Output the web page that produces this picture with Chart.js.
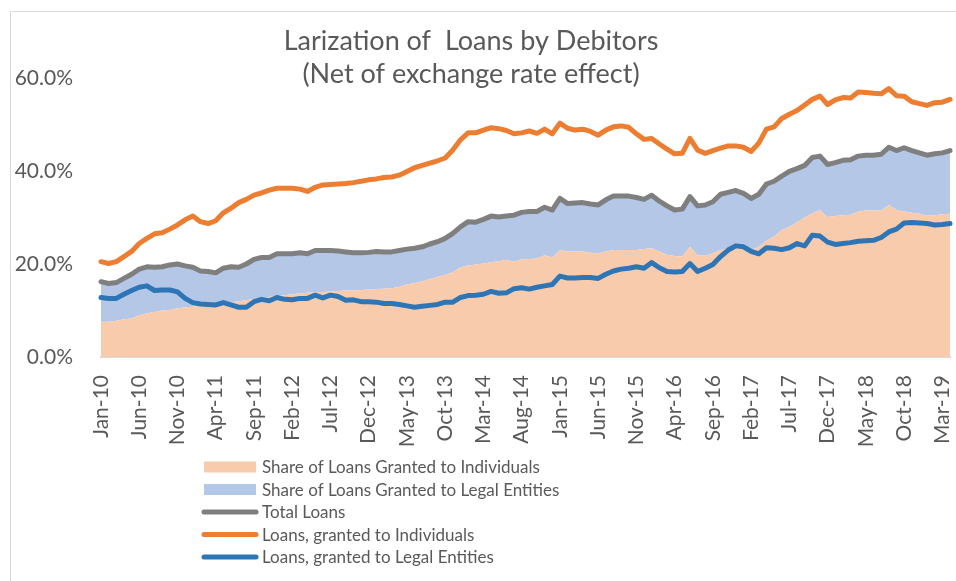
<!DOCTYPE html>
<html lang="en">
<head>
<meta charset="UTF-8">
<title>Larization of Loans by Debitors</title>
<script src="https://cdn.jsdelivr.net/npm/chart.js"></script>
<style>
  html, body { margin: 0; padding: 0; background: #fff; overflow: hidden; }
  .frame { position: absolute; left: 10px; top: 11px; width: 960px; height: 600px; border: 1px solid #d9d9d9; }
  .wrap { position: absolute; left: 0; top: 0; width: 956px; height: 581px; }
</style>
</head>
<body>
<div class="frame"></div>
<div class="wrap"><canvas id="larization"></canvas></div>
<script>
// monthly categories, Jan-10 .. Apr-19
const monthNames = ['Jan', 'Feb', 'Mar', 'Apr', 'May', 'Jun', 'Jul', 'Aug', 'Sep', 'Oct', 'Nov', 'Dec'];
const months = [];
for (let y = 10; y <= 19; y++) {
  for (let m = 0; m < 12 && months.length < 112; m++) months.push(monthNames[m] + '-' + y);
}

// shares (stacked areas), in %
const shareIndividuals = [
  7.6, 7.6, 7.8, 8.1, 8.3, 9.0, 9.4, 9.7, 10.0, 10.1, 10.5, 10.7, 10.8, 11.1, 11.2, 11.2,
  11.6, 11.8, 12.0, 12.2, 12.5, 12.7, 12.9, 13.1, 13.3, 13.5, 13.7, 13.8, 13.9, 14.0,
  14.1, 14.2, 14.3, 14.3, 14.4, 14.5, 14.6, 14.7, 14.8, 15.1, 15.6, 15.9, 16.3, 16.8, 17.2,
  17.7, 18.2, 19.3, 19.7, 19.9, 20.1, 20.4, 20.6, 20.9, 20.5, 21.0, 21.1, 21.2, 21.9, 21.4,
  23.0, 22.7, 22.7, 22.7, 22.4, 22.3, 22.7, 23.0, 23.0, 23.0, 23.0, 23.2, 23.4, 22.7, 22.0,
  21.7, 21.6, 23.7, 21.9, 21.8, 22.3, 23.0, 23.2, 23.4, 23.4, 23.0, 23.7, 25.0, 25.9, 27.3,
  28.0, 29.0, 30.0, 30.9, 31.6, 30.1, 30.3, 30.5, 30.6, 31.3, 31.5, 31.5, 31.5, 32.7, 31.6,
  31.3, 31.0, 30.8, 30.4, 30.5, 30.7, 30.8
];
const shareLegalEntities = [
  8.6, 8.2, 8.2, 8.8, 9.5, 9.9, 10.0, 9.6, 9.4, 9.7, 9.5, 8.9, 8.5, 7.4, 7.2, 6.9,
  7.5, 7.6, 7.3, 7.8, 8.5, 8.7, 8.5, 9.1, 8.9, 8.7, 8.7, 8.4, 9.0, 8.9,
  8.8, 8.6, 8.3, 8.1, 8.0, 8.0, 8.1, 7.9, 7.8, 7.8, 7.6, 7.5, 7.4, 7.5, 7.6,
  7.8, 8.4, 8.7, 9.4, 9.1, 9.5, 9.9, 9.5, 9.4, 10.0, 10.1, 10.2, 10.1, 10.3, 10.2,
  11.1, 10.3, 10.4, 10.5, 10.5, 10.4, 11.1, 11.6, 11.6, 11.6, 11.3, 10.7, 11.4, 10.8, 10.5,
  9.9, 10.2, 10.8, 10.6, 10.9, 11.1, 12.0, 12.2, 12.4, 11.8, 11.1, 11.3, 12.2, 11.9, 11.6,
  11.9, 11.5, 11.2, 12.0, 11.6, 11.3, 11.5, 11.8, 11.8, 11.9, 11.9, 11.9, 12.1, 12.4, 12.8,
  13.7, 13.4, 13.1, 13.0, 13.2, 13.2, 13.6
];

// larization lines, in %
const totalLoans = [
  16.2, 15.8, 16.0, 16.9, 17.8, 18.9, 19.4, 19.3, 19.4, 19.8, 20.0, 19.6, 19.3, 18.5, 18.4, 18.1,
  19.1, 19.4, 19.3, 20.0, 21.0, 21.4, 21.4, 22.2, 22.2, 22.2, 22.4, 22.2, 22.9, 22.9,
  22.9, 22.8, 22.6, 22.4, 22.4, 22.5, 22.7, 22.6, 22.6, 22.9, 23.2, 23.4, 23.7, 24.3, 24.8,
  25.5, 26.6, 28.0, 29.1, 29.0, 29.6, 30.3, 30.1, 30.3, 30.5, 31.1, 31.3, 31.3, 32.2, 31.6,
  34.1, 33.0, 33.1, 33.2, 32.9, 32.7, 33.8, 34.6, 34.6, 34.6, 34.3, 33.9, 34.8, 33.5, 32.5,
  31.6, 31.8, 34.5, 32.5, 32.7, 33.4, 35.0, 35.4, 35.8, 35.2, 34.1, 35.0, 37.2, 37.8, 38.9,
  39.9, 40.5, 41.2, 42.9, 43.2, 41.4, 41.8, 42.3, 42.4, 43.2, 43.4, 43.4, 43.6, 45.1, 44.4,
  45.0, 44.4, 43.9, 43.4, 43.7, 43.9, 44.4
];
const loansIndividuals = [
  20.5, 20.1, 20.5, 21.6, 22.7, 24.4, 25.5, 26.5, 26.7, 27.5, 28.4, 29.5, 30.3, 29.1, 28.7, 29.3,
  31.0, 32.0, 33.2, 33.9, 34.8, 35.3, 35.9, 36.3, 36.3, 36.3, 36.1, 35.6, 36.5, 37.0,
  37.1, 37.2, 37.3, 37.5, 37.8, 38.1, 38.3, 38.6, 38.7, 39.1, 39.9, 40.7, 41.2, 41.7, 42.2,
  42.8, 44.5, 46.7, 48.2, 48.2, 48.8, 49.3, 49.1, 48.7, 48.0, 48.2, 48.6, 48.1, 49.0, 48.0,
  50.3, 49.2, 48.8, 49.0, 48.5, 47.7, 48.8, 49.5, 49.7, 49.4, 48.0, 46.8, 47.0, 45.8, 44.7,
  43.7, 43.8, 47.0, 44.5, 43.8, 44.4, 44.9, 45.4, 45.4, 45.1, 44.2, 46.0, 49.0, 49.5, 51.3,
  52.2, 53.0, 54.2, 55.4, 56.1, 54.3, 55.3, 55.8, 55.7, 57.0, 56.9, 56.7, 56.6, 57.7, 56.2,
  56.1, 54.9, 54.5, 54.1, 54.7, 54.8, 55.4
];
const loansLegalEntities = [
  12.8, 12.6, 12.6, 13.5, 14.3, 15.0, 15.3, 14.3, 14.4, 14.4, 14.0, 12.6, 11.7, 11.4, 11.3, 11.2,
  11.7, 11.2, 10.7, 10.7, 11.9, 12.4, 12.1, 12.8, 12.4, 12.3, 12.6, 12.6, 13.3, 12.7,
  13.3, 13.0, 12.2, 12.3, 11.9, 11.9, 11.8, 11.5, 11.5, 11.3, 11.0, 10.7, 10.9, 11.1, 11.3,
  11.8, 11.8, 12.8, 13.2, 13.3, 13.5, 14.1, 13.7, 13.8, 14.7, 14.9, 14.6, 15.0, 15.3, 15.6,
  17.4, 17.0, 17.0, 17.1, 17.1, 16.9, 17.8, 18.5, 18.9, 19.1, 19.4, 19.1, 20.3, 19.2, 18.4,
  18.3, 18.4, 20.1, 18.4, 19.1, 19.9, 21.6, 23.0, 23.9, 23.7, 22.7, 22.2, 23.5, 23.4, 23.1,
  23.5, 24.4, 23.9, 26.2, 26.0, 24.7, 24.2, 24.4, 24.6, 24.9, 25.0, 25.1, 25.7, 26.9, 27.5,
  28.8, 28.9, 28.8, 28.7, 28.4, 28.5, 28.7
];

const yTicks = [0, 20, 40, 60];
const titleLines = ['Larization of  Loans by Debitors', '(Net of exchange rate effect)'];

const textColor = '#595959';

// two-line title, centred a bit left of the plot
const titlePlugin = {
  id: 'twoLineTitle',
  afterDraw(chart) {
    const ctx = chart.ctx;
    ctx.save();
    ctx.font = '27px Lato';
    ctx.fillStyle = textColor;
    ctx.textAlign = 'center';
    ctx.textBaseline = 'alphabetic';
    ctx.fillText(titleLines[0], 471, 50);
    ctx.fillText(titleLines[1], 471, 83);
    ctx.restore();
  }
};

// vertical legend under the axis labels
const legendPlugin = {
  id: 'columnLegend',
  afterDraw(chart) {
    const ctx = chart.ctx;
    const x = 204, w = 52, textX = 262, top = 467, step = 22.5;
    ctx.save();
    chart.data.datasets.forEach((ds, i) => {
      const y = top + i * step;
      if (ds.fill) {
        ctx.fillStyle = ds.backgroundColor;
        ctx.fillRect(x, y - 5.5, w, 11);
      } else {
        ctx.strokeStyle = ds.borderColor;
        ctx.lineWidth = 5;
        ctx.lineCap = 'round';
        ctx.beginPath();
        ctx.moveTo(x, y);
        ctx.lineTo(x + w, y);
        ctx.stroke();
      }
      ctx.font = '17px Lato';
      ctx.fillStyle = textColor;
      ctx.textAlign = 'left';
      ctx.textBaseline = 'middle';
      ctx.fillText(ds.label, textX, y + 1);
    });
    ctx.restore();
  }
};

function lineSet(label, data, color, stack, order) {
  return {
    type: 'line', label, data, stack, order,
    borderColor: color, backgroundColor: color,
    borderWidth: 5, borderCapStyle: 'round', borderJoinStyle: 'round',
    pointRadius: 0, tension: 0, fill: false, clip: 8
  };
}

function draw() {
  Chart.defaults.font.family = 'Lato';
  new Chart(document.getElementById('larization'), {
    type: 'line',
    data: {
      labels: months,
      datasets: [
        {
          label: 'Share of Loans Granted to Individuals', data: shareIndividuals, stack: 'shares', order: 5,
          backgroundColor: '#f8cbad', borderWidth: 0, pointRadius: 0, fill: 'origin', tension: 0
        },
        {
          label: 'Share of Loans Granted to Legal Entities', data: shareLegalEntities, stack: 'shares', order: 5,
          backgroundColor: '#b4c7e7', borderWidth: 0, pointRadius: 0, fill: '-1', tension: 0
        },
        lineSet('Total Loans', totalLoans, '#7f7f7f', 'total', 3),
        lineSet('Loans, granted to Individuals', loansIndividuals, '#ed7d31', 'ind', 2),
        lineSet('Loans, granted to Legal Entities', loansLegalEntities, '#2e75b6', 'legal', 1)
      ]
    },
    options: {
      responsive: true,
      maintainAspectRatio: false,
      animation: false,
      layout: { padding: { top: 78, right: 6, bottom: 124, left: 0 } },
      plugins: { legend: { display: false }, title: { display: false }, tooltip: { enabled: false } },
      scales: {
        x: {
          type: 'category',
          offset: false,
          grid: { display: false, drawTicks: false, tickLength: 0 },
          border: { display: true, color: '#d9d9d9', width: 2 },
          ticks: {
            autoSkip: false, minRotation: 90, maxRotation: 90, padding: 18,
            color: textColor, font: { size: 21 },
            callback: (v, i) => (i % 5 === 0 ? months[i] : '')
          },
          afterFit(scale) { scale.height = 100; scale.paddingLeft = 0; scale.paddingRight = 0; }
        },
        y: {
          stacked: true,
          min: 0, max: 60,
          afterBuildTicks(scale) { scale.ticks = yTicks.map(v => ({ value: v })); },
          grid: { display: false, drawTicks: false, tickLength: 0 },
          border: { display: false },
          ticks: {
            padding: 28, color: textColor, font: { size: 21 },
            callback: v => v.toFixed(1) + '%'
          },
          afterFit(scale) { scale.width = 101; }
        }
      }
    },
    plugins: [titlePlugin, legendPlugin]
  });
}

document.fonts.load('21px Lato').then(draw, draw);
</script>
</body>
</html>
